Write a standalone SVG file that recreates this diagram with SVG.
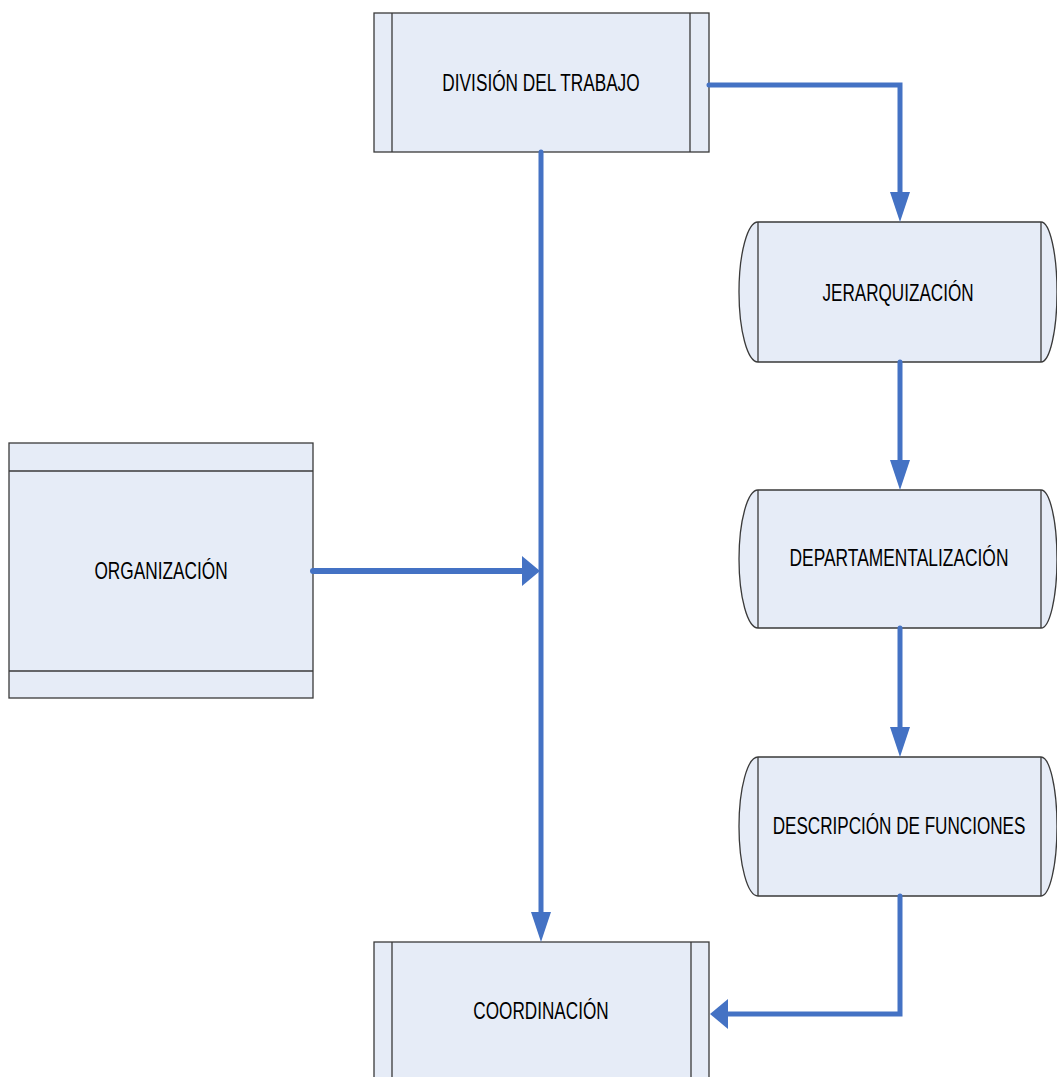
<svg xmlns="http://www.w3.org/2000/svg" width="1057" height="1077" viewBox="0 0 1057 1077">
<style>
.box{fill:#E6ECF7;stroke:#3a3a3a;stroke-width:1.3}
.ln{fill:none;stroke:#3a3a3a;stroke-width:1.3}
.lbl{font-family:"Liberation Sans",Arial,sans-serif;font-size:24px;fill:#000;text-anchor:middle}
.c{fill:none;stroke:#4472C4;stroke-width:5;stroke-linecap:round;stroke-linejoin:miter}
.ah{fill:#4472C4;stroke:none}
</style>
<rect width="1057" height="1077" fill="#fff"/>
<g id="division">
<rect class="box" x="374" y="13" width="335" height="139"/>
<line class="ln" x1="392" y1="13" x2="392" y2="152"/>
<line class="ln" x1="690" y1="13" x2="690" y2="152"/>
<text class="lbl" transform="translate(541,91) scale(0.72,1)" x="0" y="0" textLength="274" lengthAdjust="spacingAndGlyphs">DIVISIÓN DEL TRABAJO</text>
</g>
<g id="jerarquizacion">
<path class="box" d="M758,222 H1041 A16,70 0 0 1 1041,362 H758 A19,70 0 0 1 758,222 Z"/>
<line class="ln" x1="758" y1="222" x2="758" y2="362"/>
<line class="ln" x1="1041" y1="222" x2="1041" y2="362"/>
<text class="lbl" transform="translate(898,301) scale(0.72,1)" x="0" y="0" textLength="210" lengthAdjust="spacingAndGlyphs">JERARQUIZACIÓN</text>
</g>
<g id="departamentalizacion">
<path class="box" d="M758,490 H1041 A16,69 0 0 1 1041,628 H758 A19,69 0 0 1 758,490 Z"/>
<line class="ln" x1="758" y1="490" x2="758" y2="628"/>
<line class="ln" x1="1041" y1="490" x2="1041" y2="628"/>
<text class="lbl" transform="translate(899,566) scale(0.72,1)" x="0" y="0" textLength="304" lengthAdjust="spacingAndGlyphs">DEPARTAMENTALIZACIÓN</text>
</g>
<g id="descripcion">
<path class="box" d="M758,757 H1041 A16,69.5 0 0 1 1041,896 H758 A19,69.5 0 0 1 758,757 Z"/>
<line class="ln" x1="758" y1="757" x2="758" y2="896"/>
<line class="ln" x1="1041" y1="757" x2="1041" y2="896"/>
<text class="lbl" transform="translate(899,834) scale(0.72,1)" x="0" y="0" textLength="351" lengthAdjust="spacingAndGlyphs">DESCRIPCIÓN DE FUNCIONES</text>
</g>
<g id="organizacion">
<rect class="box" x="9" y="443" width="304" height="255"/>
<line class="ln" x1="9" y1="471" x2="313" y2="471"/>
<line class="ln" x1="9" y1="671" x2="313" y2="671"/>
<text class="lbl" transform="translate(161,579) scale(0.72,1)" x="0" y="0" textLength="185" lengthAdjust="spacingAndGlyphs">ORGANIZACIÓN</text>
</g>
<g id="coordinacion">
<rect class="box" x="374" y="942" width="335" height="150"/>
<line class="ln" x1="392" y1="942" x2="392" y2="1077"/>
<line class="ln" x1="691" y1="942" x2="691" y2="1077"/>
<text class="lbl" transform="translate(541,1019) scale(0.72,1)" x="0" y="0" textLength="188" lengthAdjust="spacingAndGlyphs">COORDINACIÓN</text>
</g>
<g id="connectors">
<path class="c" d="M709,85 H900 V194"/>
<polygon class="ah" points="890,192 910,192 900,222"/>
<path class="c" d="M541,152 V914"/>
<polygon class="ah" points="531,912 551,912 541,942"/>
<path class="c" d="M313,571 H524" style="stroke-width:6"/>
<polygon class="ah" points="522,556 522,586 540,571"/>
<path class="c" d="M900,362 V462"/>
<polygon class="ah" points="890,460 910,460 900,490"/>
<path class="c" d="M900,628 V729"/>
<polygon class="ah" points="890,727 910,727 900,757"/>
<path class="c" d="M900,896 V1014 H726"/>
<polygon class="ah" points="728,999 728,1029 710,1014"/>
</g>
</svg>
